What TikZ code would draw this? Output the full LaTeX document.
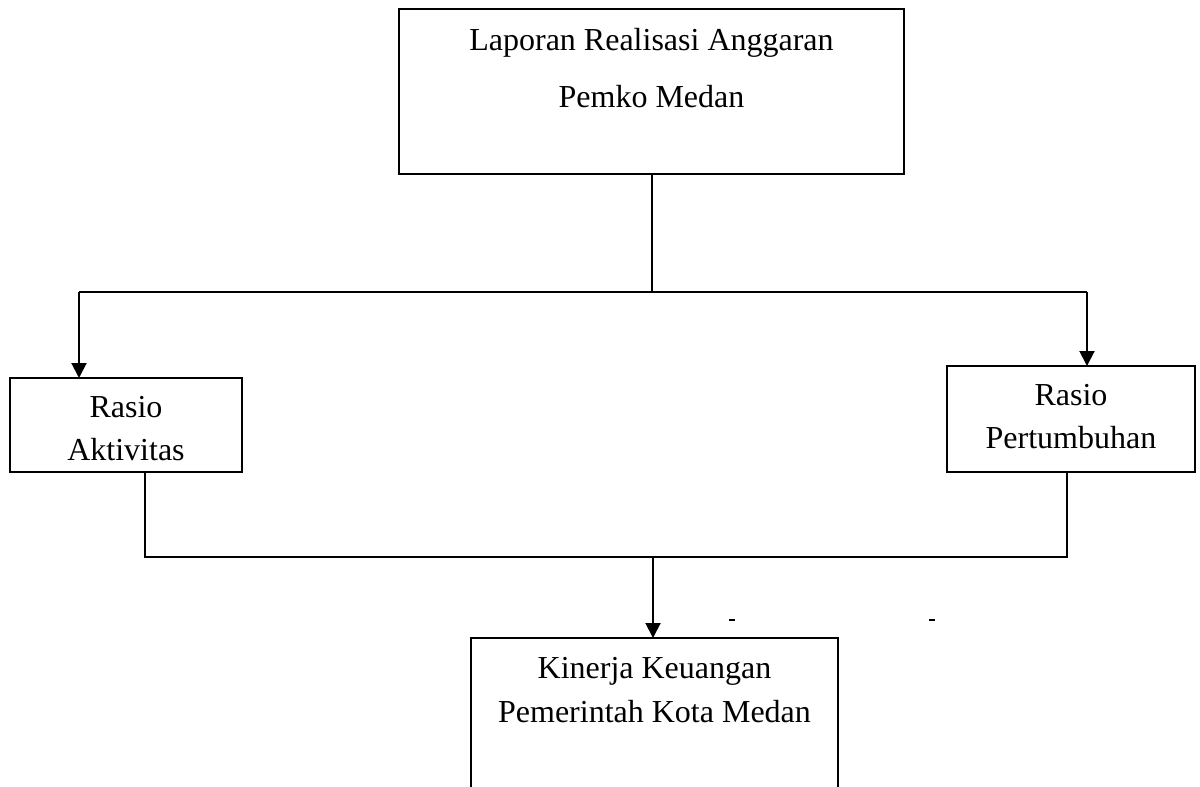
\documentclass[tikz,border=0pt]{standalone}
\usepackage{fontspec}
\setmainfont{Liberation Serif}
\usetikzlibrary{arrows.meta}
\begin{document}
\begin{tikzpicture}[x=1pt, y=-1pt, line width=2pt, font=\fontsize{32}{38}\selectfont,
    box/.style={draw, rectangle, inner sep=0pt, outer sep=0pt},
    txt/.style={anchor=base, inner sep=0pt},
    arr/.style={-{Triangle[length=15pt, width=15pt]}}]
    \clip (0,0) rectangle (1200,787);
    % kotak
    \node[box, minimum width=505, minimum height=165] (lra) at (651.5, 91.5) {};
    \node[box, minimum width=232, minimum height=94] (ra) at (126, 425) {};
    \node[box, minimum width=248, minimum height=106] (rp) at (1071, 419) {};
    \node[box, minimum width=367, minimum height=200] (kk) at (654.5, 738) {};
    % teks
    \node[txt] (lra-a) at (651.5, 50) {Laporan Realisasi Anggaran};
    \node[txt] (lra-b) at (651.5, 107) {Pemko Medan};
    \node[txt] (ra-a) at (126, 417) {Rasio};
    \node[txt] (ra-b) at (126, 460) {Aktivitas};
    \node[txt] (rp-a) at (1071, 405) {Rasio};
    \node[txt] (rp-b) at (1071, 448) {Pertumbuhan};
    \node[txt] (kk-a) at (654.5, 678) {Kinerja Keuangan};
    \node[txt] (kk-b) at (654.5, 722) {Pemerintah Kota Medan};
    % garis
    \coordinate (kiri) at (79, 292);
    \coordinate (kanan) at (1087, 292);
    \coordinate (bawah-kiri) at (145, 557);
    \coordinate (bawah-kanan) at (1067, 557);
    \coordinate (gabung) at (653, 557);
    \draw (lra.south) -- (lra.south |- kiri);
    \draw (kiri) -- (kanan);
    \draw[arr] (kiri) -- (kiri |- ra.north);
    \draw[arr] (kanan) -- (kanan |- rp.north);
    \draw (bawah-kiri |- ra.south) -- (bawah-kiri) -- (bawah-kanan) -- (bawah-kanan |- rp.south);
    \draw[arr] (gabung) -- (gabung |- kk.north);
    \fill (729, 619) rectangle (735, 621);
    \fill (929, 619) rectangle (935, 621);
\end{tikzpicture}
\end{document}
